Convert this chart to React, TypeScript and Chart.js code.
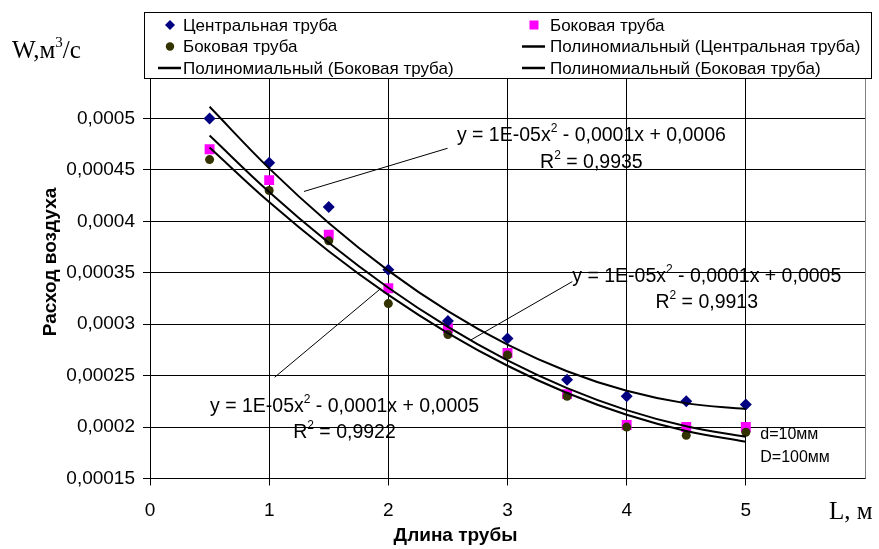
import React, { useEffect, useRef } from 'react';
import { Chart, registerables } from 'chart.js';

Chart.register(...registerables);

// ---------- data ----------
const pipeLengths = [0.5, 1, 1.5, 2, 2.5, 3, 3.5, 4, 4.5, 5];
const centralPipe = [0.0005, 0.000457, 0.000414, 0.000353, 0.000303, 0.000286, 0.000246, 0.00023, 0.000225, 0.000222];
const sidePipeSquares = [0.00047, 0.00044, 0.000387, 0.000335, 0.000296, 0.000272, 0.000232, 0.000202, 0.0002, 0.0002];
const sidePipeCircles = [0.00046, 0.00043, 0.000381, 0.00032, 0.00029, 0.00027, 0.00023, 0.0002, 0.000192, 0.000195];

const seriesLabels = [
  'Центральная труба',
  'Боковая труба',
  'Боковая труба',
  'Полиномиальный (Центральная труба)',
  'Полиномиальный (Боковая труба)',
  'Полиномиальный (Боковая труба)',
];

const yMin = 0.00015;
const yMax = 0.00055;
const yStep = 0.00005;
const xMin = 0;
const xMax = 6;
const xStep = 1;

const yAxisTitle = 'Расход воздуха';
const xAxisTitle = 'Длина трубы';
const yUnitLabel = 'W,м';
const xUnitLabel = 'L, м';
const noteLines = ['d=10мм', 'D=100мм'];

// trend equation labels (text) and their anchor positions in data units
const eqTexts = [
  { a: 'y = 1E-05x', b: ' - 0,0001x + 0,0006', r2: ' = 0,9935' },
  { a: 'y = 1E-05x', b: ' - 0,0001x + 0,0005', r2: ' = 0,9913' },
  { a: 'y = 1E-05x', b: ' - 0,0001x + 0,0005', r2: ' = 0,9922' },
];
const eqCenters = [
  [3.704, 0.000483, 0.000457],
  [4.672, 0.000346, 0.0003207],
  [1.632, 0.0002196, 0.0001943],
];
const eqLeaders = [
  [1.292, 0.000429, 2.497, 0.000471],
  [3.544, 0.0003414, 2.693, 0.0002847],
  [1.046, 0.0002484, 1.94, 0.000335],
];
const notePos = [5.121, 0.0001923, 0.0001706];

// ---------- helpers ----------
function quadFit(xs: number[], ys: number[]) {
  let s0 = 0, s1 = 0, s2 = 0, s3 = 0, s4 = 0, t0 = 0, t1 = 0, t2 = 0;
  for (let i = 0; i < xs.length; i++) {
    const x = xs[i], y = ys[i];
    s0 += 1; s1 += x; s2 += x * x; s3 += x * x * x; s4 += x * x * x * x;
    t0 += y; t1 += x * y; t2 += x * x * y;
  }
  const M = [
    [s4, s3, s2, t2],
    [s3, s2, s1, t1],
    [s2, s1, s0, t0],
  ];
  for (let c = 0; c < 3; c++) {
    for (let r = c + 1; r < 3; r++) {
      const f = M[r][c] / M[c][c];
      for (let k = c; k < 4; k++) M[r][k] -= f * M[c][k];
    }
  }
  const sol = [0, 0, 0];
  for (let r = 2; r >= 0; r--) {
    let v = M[r][3];
    for (let k = r + 1; k < 3; k++) v -= M[r][k] * sol[k];
    sol[r] = v / M[r][r];
  }
  return (x: number) => sol[0] * x * x + sol[1] * x + sol[2];
}

const pts = (ys: number[]) => pipeLengths.map((x, i) => ({ x, y: ys[i] }));
const trend = (ys: number[]) => {
  const f = quadFit(pipeLengths, ys);
  return pipeLengths.map((x) => ({ x, y: f(x) }));
};

const SANS = '"Liberation Sans", Arial, Helvetica, sans-serif';
const SERIF = '"Liberation Serif", "Times New Roman", serif';

function drawSupText(ctx: CanvasRenderingContext2D, parts: { t: string; sup?: boolean }[], cx: number, cy: number, size: number) {
  const supSize = Math.round(size * 0.62);
  let w = 0;
  for (const p of parts) {
    ctx.font = `${p.sup ? supSize : size}px ${SANS}`;
    w += ctx.measureText(p.t).width;
  }
  let x = cx - w / 2;
  ctx.textBaseline = 'middle';
  ctx.textAlign = 'left';
  for (const p of parts) {
    ctx.font = `${p.sup ? supSize : size}px ${SANS}`;
    ctx.fillText(p.t, x, p.sup ? cy - size * 0.38 : cy);
    x += ctx.measureText(p.t).width;
  }
}

const overlayPlugin = {
  id: 'overlay',
  afterDraw(chart: any) {
    const { ctx, chartArea } = chart;
    const xs = chart.scales.x;
    const ys = chart.scales.y;
    ctx.save();

    // right border of plot
    ctx.strokeStyle = '#808080';
    ctx.lineWidth = 1;
    const rx = Math.round(chartArea.right) + 0.5;
    ctx.beginPath();
    ctx.moveTo(rx, chartArea.top);
    ctx.lineTo(rx, chartArea.bottom);
    ctx.stroke();

    // leader lines
    ctx.strokeStyle = '#000';
    ctx.lineWidth = 1;
    for (const l of eqLeaders) {
      ctx.beginPath();
      ctx.moveTo(xs.getPixelForValue(l[0]), ys.getPixelForValue(l[1]));
      ctx.lineTo(xs.getPixelForValue(l[2]), ys.getPixelForValue(l[3]));
      ctx.stroke();
    }

    // equations
    ctx.fillStyle = '#000';
    eqTexts.forEach((e, i) => {
      const c = eqCenters[i];
      const px = xs.getPixelForValue(c[0]);
      drawSupText(ctx, [{ t: e.a }, { t: '2', sup: true }, { t: e.b }], px, ys.getPixelForValue(c[1]), 19.5);
      drawSupText(ctx, [{ t: 'R' }, { t: '2', sup: true }, { t: e.r2 }], px, ys.getPixelForValue(c[2]), 19.5);
    });

    // notes
    ctx.font = `16px ${SANS}`;
    ctx.textAlign = 'left';
    ctx.textBaseline = 'middle';
    ctx.fillText(noteLines[0], xs.getPixelForValue(notePos[0]), ys.getPixelForValue(notePos[1]));
    ctx.fillText(noteLines[1], xs.getPixelForValue(notePos[0]), ys.getPixelForValue(notePos[2]));

    // axis titles
    ctx.font = `bold 19px ${SANS}`;
    ctx.textAlign = 'center';
    ctx.textBaseline = 'middle';
    ctx.fillText(xAxisTitle, (chartArea.left + chartArea.right) / 2 - 52, 536);
    ctx.save();
    ctx.translate(51, 262);
    ctx.rotate(-Math.PI / 2);
    ctx.fillText(yAxisTitle, 0, 0);
    ctx.restore();

    // unit labels (serif)
    ctx.textAlign = 'left';
    ctx.font = `25px ${SERIF}`;
    ctx.fillText(yUnitLabel, 12, 51);
    const w = ctx.measureText(yUnitLabel).width;
    ctx.font = `15px ${SERIF}`;
    ctx.fillText('3', 12 + w, 43);
    const w3 = ctx.measureText('3').width;
    ctx.font = `25px ${SERIF}`;
    ctx.fillText('/с', 12 + w + w3, 51);
    ctx.fillText(xUnitLabel, 829, 512);

    // legend box
    const bx = 144.5, by = 12.5, bw = 727, bh = 66;
    ctx.fillStyle = '#fff';
    ctx.fillRect(bx, by, bw, bh);
    ctx.strokeStyle = '#000';
    ctx.strokeRect(bx, by, bw, bh);
    const colMarker = [170, 534];
    const colText = [183, 550];
    const rowY = [25, 46.5, 68];
    ctx.font = `17px ${SANS}`;
    ctx.textBaseline = 'middle';
    ctx.textAlign = 'left';
    chart.data.datasets.forEach((ds: any, i: number) => {
      const col = i % 2;
      const row = Math.floor(i / 2);
      const mx = colMarker[col];
      const my = rowY[row];
      if (ds.pointRadius === 0) {
        ctx.strokeStyle = ds.borderColor;
        ctx.lineWidth = 2.5;
        ctx.beginPath();
        ctx.moveTo(mx - 12, my);
        ctx.lineTo(mx + 11, my);
        ctx.stroke();
      } else {
        ctx.fillStyle = ds.backgroundColor;
        const r = 5;
        ctx.beginPath();
        if (ds.pointStyle === 'rectRot') {
          ctx.moveTo(mx - r, my); ctx.lineTo(mx, my - r); ctx.lineTo(mx + r, my); ctx.lineTo(mx, my + r);
          ctx.closePath();
        } else if (ds.pointStyle === 'rect') {
          ctx.rect(mx - 4.5, my - 4.5, 9, 9);
        } else {
          ctx.arc(mx, my, 4.2, 0, Math.PI * 2);
        }
        ctx.fill();
      }
      ctx.fillStyle = '#000';
      ctx.fillText(ds.label, colText[col], my + 1);
    });

    ctx.restore();
  },
};

export default function App() {
  const ref = useRef<HTMLCanvasElement | null>(null);
  useEffect(() => {
    document.body.style.margin = '0';
    if (!ref.current) return;
    const fmt = (v: number) => String(Number(v.toPrecision(4))).replace('.', ',');
    const chart = new Chart(ref.current, {
      type: 'scatter',
      data: {
        datasets: [
          { label: seriesLabels[0], data: pts(centralPipe), pointStyle: 'rectRot', pointRadius: 6, backgroundColor: '#000080', borderColor: '#000080', borderWidth: 0, order: 3 } as any,
          { label: seriesLabels[1], data: pts(sidePipeSquares), pointStyle: 'rect', pointRadius: 7, backgroundColor: '#FF00FF', borderColor: '#FF00FF', borderWidth: 0, order: 4 } as any,
          { label: seriesLabels[2], data: pts(sidePipeCircles), pointStyle: 'circle', pointRadius: 4.5, backgroundColor: '#333300', borderColor: '#333300', borderWidth: 0, order: 2 } as any,
          { label: seriesLabels[3], data: trend(centralPipe), showLine: true, pointRadius: 0, borderColor: '#000', borderWidth: 2, tension: 0.4, order: 1 } as any,
          { label: seriesLabels[4], data: trend(sidePipeSquares), showLine: true, pointRadius: 0, borderColor: '#000', borderWidth: 2, tension: 0.4, order: 1 } as any,
          { label: seriesLabels[5], data: trend(sidePipeCircles), showLine: true, pointRadius: 0, borderColor: '#000', borderWidth: 2, tension: 0.4, order: 1 } as any,
        ],
      },
      options: {
        responsive: false,
        animation: false,
        layout: { padding: { top: 67, right: 12, left: 0, bottom: 0 } },
        plugins: { legend: { display: false }, tooltip: { enabled: false } },
        scales: {
          x: {
            type: 'linear',
            min: xMin,
            max: xMax,
            afterFit: (s: any) => { s.height = 70.5; },
            ticks: {
              stepSize: xStep,
              padding: 14,
              color: '#000',
              font: { family: SANS, size: 19 },
              callback: (v: any) => (Number(v) >= xMax ? '' : String(v)),
            },
            grid: {
              color: '#000',
              lineWidth: 1,
              tickLength: 7,
              tickColor: (c: any) => (c.tick && c.tick.value >= xMax ? 'rgba(0,0,0,0)' : '#000'),
            },
            border: { color: '#000' },
          },
          y: {
            type: 'linear',
            min: yMin,
            max: yMax,
            afterFit: (s: any) => { s.width = 150; },
            ticks: {
              stepSize: yStep,
              padding: 8,
              color: '#000',
              font: { family: SANS, size: 19 },
              callback: (v: any) => (Number(v) > yMax - yStep / 2 ? '' : fmt(Number(v))),
            },
            grid: {
              color: '#000',
              lineWidth: 1,
              tickLength: 7,
              tickColor: (c: any) => (c.tick && c.tick.value > yMax - yStep / 2 ? 'rgba(0,0,0,0)' : '#000'),
            },
            border: { color: '#000' },
          },
        },
      },
      plugins: [overlayPlugin],
    });
    return () => chart.destroy();
  }, []);
  return (
    <div style={{ width: 879, height: 549, position: 'relative', background: '#fff' }}>
      <canvas ref={ref} width={879} height={549} />
    </div>
  );
}
